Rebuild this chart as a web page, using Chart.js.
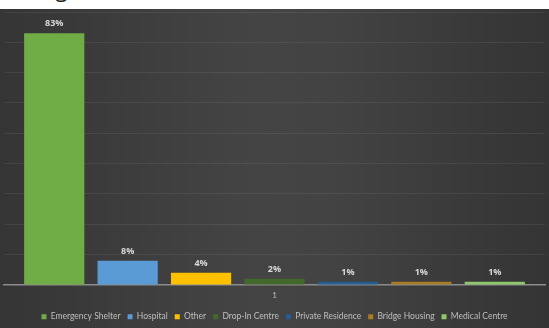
<!DOCTYPE html>
<html>
<head>
<meta charset="utf-8">
<script src="https://cdn.jsdelivr.net/npm/chart.js@4.4.0/dist/chart.umd.min.js"></script>
<style>
  html, body { margin: 0; padding: 0; background: #fff; }
  body { width: 549px; height: 328px; position: relative; overflow: hidden; }
  #title {
    position: absolute; left: 42px; top: -27px;
    font-family: "Open Sans", sans-serif; font-size: 22px; color: #222;
  }
  #wrap {
    position: absolute; left: 0; top: 9px; width: 549px; height: 319px;
    background: linear-gradient(90deg, #353535 0%, #444444 45%, #434343 60%, #343434 100%);
  }
</style>
</head>
<body>
<div id="title">ng</div>
<div id="wrap"><canvas id="chart" width="549" height="319"></canvas></div>
<script>
// data
const categories = ['1'];
const seriesNames = ['Emergency Shelter', 'Hospital', 'Other', 'Drop-In Centre', 'Private Residence', 'Bridge Housing', 'Medical Centre'];
const seriesValues = [83, 8, 4, 2, 1, 1, 1];
const seriesColors = ['#70ad47', '#5b9bd5', '#ffc000', '#43682b', '#255e91', '#a87c22', '#8fc86a'];

const datasets = seriesNames.map(function(name, i) {
    return {
        label: name,
        data: [seriesValues[i]],
        backgroundColor: seriesColors[i],
        categoryPercentage: 0.95,
        barPercentage: 0.82
    };
});

// Value labels above the bars
const barLabels = {
    id: 'barLabels',
    afterDatasetsDraw(chart) {
        const ctx = chart.ctx;
        ctx.save();
        ctx.font = 'bold 9px "Open Sans", sans-serif';
        ctx.fillStyle = '#d9d9d9';
        ctx.textAlign = 'center';
        ctx.textBaseline = 'bottom';
        chart.data.datasets.forEach(function(ds, i) {
            chart.getDatasetMeta(i).data.forEach(function(bar, j) {
                ctx.fillText(ds.data[j] + '%', bar.x, bar.y - 5);
            });
        });
        ctx.restore();
    }
};

const ctx = document.getElementById('chart').getContext('2d');
new Chart(ctx, {
    type: 'bar',
    data: { labels: categories, datasets: datasets },
    options: {
        responsive: false,
        animation: false,
        layout: { padding: { top: 3, left: 4, right: 4, bottom: -3 } },
        scales: {
            x: {
                grid: { display: false, drawTicks: false },
                border: { display: true, color: '#8c8c8c', width: 1.5 },
                ticks: { color: '#bfbfbf', font: { size: 8, family: 'Lato' }, padding: 5.5 }
            },
            y: {
                min: 0, max: 90,
                ticks: { display: false, stepSize: 10 },
                grid: { color: 'rgba(255,255,255,0.07)', drawTicks: false },
                border: { display: false }
            }
        },
        plugins: {
            legend: {
                position: 'bottom',
                labels: {
                    color: '#bfbfbf',
                    boxWidth: 5, boxHeight: 5,
                    padding: 7,
                    font: { size: 8.5, family: 'Lato' }
                }
            },
            tooltip: { enabled: false }
        }
    },
    plugins: [barLabels]
});
</script>
</body>
</html>
